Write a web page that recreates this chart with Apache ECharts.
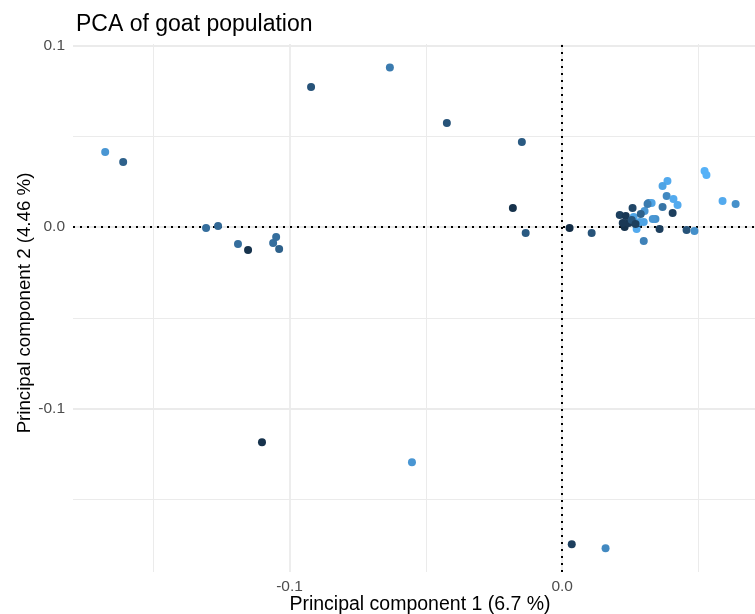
<!DOCTYPE html>
<html><head><meta charset="utf-8">
<script src="https://cdn.jsdelivr.net/npm/echarts@6/dist/echarts.min.js"></script>
<style>html,body{margin:0;padding:0;background:#fff}#chart{width:755px;height:614px}</style>
</head><body><div id="chart"></div>
<script>
// Principal component scores
const pc1 = [-0.1676,-0.1610,-0.0921,-0.0632,-0.0423,-0.0148,-0.0181,-0.0134,0.0027,0.0108,
  -0.1306,-0.1262,-0.1189,-0.1152,-0.1060,-0.1049,-0.1038,-0.1101,-0.0551,0.0035,0.0159,
  0.0522,0.0529,0.0386,0.0368,0.0383,0.0408,0.0423,0.0368,0.0405,0.0588,0.0636,0.0357,0.0456,0.0485,
  0.0299,0.0273,0.0258,0.0211,0.0233,0.0229,0.0262,0.0302,0.0317,0.0328,0.0342,0.0299,0.0280,
  0.0244,0.0222,0.0255,0.0284,0.0313,0.0269,0.0332,0.0288];
const pc2 = [0.0413,0.0358,0.0771,0.0879,0.0573,0.0468,0.0105,-0.0033,-0.0006,-0.0033,
  -0.0006,0.0006,-0.0094,-0.0127,-0.0088,-0.0055,-0.0121,-0.1185,-0.1295,-0.1747,-0.1769,
  0.0309,0.0287,0.0253,0.0226,0.0171,0.0154,0.0121,0.0110,0.0077,0.0143,0.0127,-0.0011,-0.0017,-0.0022,
  -0.0077,-0.0011,0.0105,0.0066,0.0061,0.0000,0.0055,0.0088,0.0132,0.0132,0.0044,0.0028,0.0022,
  0.0022,0.0022,0.0039,0.0028,0.0127,0.0017,0.0044,0.0072];
// colour variable (0 = dark, 1 = light)
const shade = [0.8,0.4,0.3,0.6,0.3,0.35,0.05,0.35,0.02,0.3,
  0.5,0.45,0.5,0.05,0.5,0.5,0.4,0.05,0.8,0.15,0.7,
  1.0,1.0,0.95,0.9,0.7,0.95,0.95,0.55,0.15,0.95,0.75,0.15,0.3,0.75,
  0.65,0.95,0.2,0.15,0.1,0.05,0.9,0.8,0.65,0.9,0.75,0.9,0.2,
  0.1,0.1,0.3,0.9,0.6,0.15,0.8,0.4];
const xMajorTicks = [-0.1, 0.0];
const xMinorTicks = [-0.15, -0.05, 0.05];
const yMajorTicks = [-0.1, 0.0, 0.1];
const yMinorTicks = [-0.15, -0.05, 0.05];

const FONT = '"Liberation Sans", Arial, sans-serif';
const points = pc1.map((x, i) => [x, pc2[i], shade[i]]);
const gridMajor = {width: 1.8, color: '#EBEBEB', type: 'solid'};
const gridMinor = {width: 1, color: '#EBEBEB', type: 'solid'};
const gridLines = [].concat(
  xMajorTicks.map(v => ({xAxis: v, lineStyle: gridMajor})),
  xMinorTicks.map(v => ({xAxis: v, lineStyle: gridMinor})),
  yMajorTicks.map(v => ({yAxis: v, lineStyle: gridMajor})),
  yMinorTicks.map(v => ({yAxis: v, lineStyle: gridMinor}))
);
const fmt = v => (Math.abs(v) < 1e-9 ? '0.0' : v.toFixed(1));

const chart = echarts.init(document.getElementById('chart'), null, {renderer: 'canvas'});
chart.setOption({
  animation: false,
  backgroundColor: '#fff',
  title: {
    text: 'PCA of goat population', left: 71, top: 8,
    textStyle: {fontFamily: FONT, fontSize: 23, fontWeight: 'normal', color: '#000'}
  },
  grid: {left: 73, right: 0, top: 44, bottom: 42, containLabel: false, outerBoundsMode: 'none'},
  xAxis: {
    type: 'value', min: -0.1794, max: 0.0707,
    name: 'Principal component 1 (6.7 %)', nameLocation: 'middle', nameGap: 23, nameMoveOverlap: false,
    nameTextStyle: {fontFamily: FONT, fontSize: 19.5, color: '#000', padding: [0, 0, 0, 12]},
    axisLine: {show: false}, axisTick: {show: false}, splitLine: {show: false},
    axisLabel: {customValues: xMajorTicks, formatter: fmt, fontFamily: FONT, fontSize: 15.5, color: '#4D4D4D', margin: 7}
  },
  yAxis: {
    type: 'value', min: -0.190, max: 0.1008,
    name: 'Principal component 2 (4.46 %)', nameLocation: 'middle', nameGap: 39, nameMoveOverlap: false,
    nameTextStyle: {fontFamily: FONT, fontSize: 18.7, color: '#000', padding: [0, 0, 0, 10]},
    axisLine: {show: false}, axisTick: {show: false}, splitLine: {show: false},
    axisLabel: {customValues: yMajorTicks, formatter: fmt, fontFamily: FONT, fontSize: 15.5, color: '#4D4D4D', margin: 8}
  },
  visualMap: {
    show: false, type: 'continuous', dimension: 2, min: 0, max: 1, seriesIndex: 2,
    inRange: {color: ['#132B43', '#56B1F7']}
  },
  series: [
    {
      type: 'scatter', data: [], z: 1, silent: true,
      markLine: {silent: true, symbol: ['none', 'none'], label: {show: false}, animation: false, data: gridLines}
    },
    {
      type: 'scatter', data: [], z: 2, silent: true,
      markLine: {
        silent: true, symbol: ['none', 'none'], label: {show: false}, animation: false,
        lineStyle: {color: '#000', width: 2, type: [2, 5]},
        data: [{xAxis: 0}, {yAxis: 0}]
      }
    },
    {
      type: 'scatter', data: points, z: 10, zlevel: 1, symbolSize: 8,
      itemStyle: {opacity: 1}
    }
  ]
});
</script>
</body></html>
